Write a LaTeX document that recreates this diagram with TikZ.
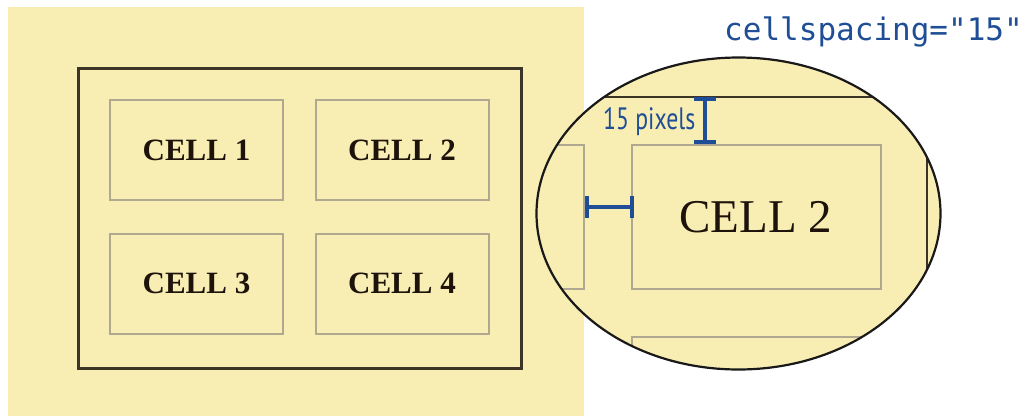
\documentclass[tikz,border=0pt]{standalone}
\usepackage{fontspec}
\setmainfont{Liberation Serif}
\newfontfamily\codefont{DejaVu Sans Mono}
\newfontfamily\notefont{PT Sans}
\usetikzlibrary{arrows.meta}

\definecolor{paper}{HTML}{F8EEB4}
\definecolor{tableedge}{HTML}{3C3426}
\definecolor{celledge}{HTML}{B0A890}
\definecolor{inkblue}{HTML}{1F4E96}

\tikzset{
  cellbox/.style={draw=celledge, line width=2pt, fill=paper, inner sep=0pt,
    minimum width=173pt, minimum height=100pt,
    font=\fontsize{31}{31}\selectfont\bfseries, text=black!85!brown},
  spacer/.style={draw=inkblue, line width=3.5pt,
    {Bar[width=22pt,line width=3.5pt]}-{Bar[width=22pt,line width=3.5pt]}, shorten <=-1.75pt, shorten >=-1.75pt},
}

\begin{document}
\begin{tikzpicture}[x=1pt,y=-1pt]
\useasboundingbox (0,0) rectangle (1034,416);

% page background with the table
\fill[paper] (8,7) rectangle (584,416);
\draw[tableedge, line width=3pt] (78,68) rectangle (521,368);
\node[cellbox] (c1) at (196.5,150) {CELL 1};
\node[cellbox] (c2) at (402,150) {CELL 2};
\node[cellbox] (c3) at (196.5,283.5) {CELL 3};
\node[cellbox] (c4) at (402,283.5) {CELL 4};

% magnified view
\fill[paper] (738.5,213.5) ellipse [x radius=202, y radius=156];
\begin{scope}
  \clip (738.5,213.5) ellipse [x radius=202, y radius=156];
  \draw[tableedge, line width=2.5pt] (500,97) -- (927,97) -- (927,400);
  \draw[celledge, line width=2pt] (400,145) -- (584,145) -- (584,289) -- (400,289);
  \draw[celledge, line width=2pt] (632,145) rectangle (881,289);
  \draw[celledge, line width=2pt] (632,420) -- (632,337) -- (990,337);
\end{scope}
\node[font=\fontsize{47}{47}\selectfont, text=black!85!brown, anchor=base] (big) at (756,232) {CELL 2};
\draw[black!90, line width=2.2pt] (738.5,213.5) ellipse [x radius=202, y radius=156];

% spacing markers
\coordinate (vt) at (705,99);
\coordinate (vb) at (705,142);
\coordinate (hl) at (587,207);
\coordinate (hr) at (632,207);
\draw[spacer] (vt) -- (vb);
\draw[spacer] (hl) -- (hr);
\node[anchor=base west, inner sep=0pt, text=inkblue] (lbl) at (603,129)
  {\resizebox{92pt}{22pt}{\notefont 15 pixels}};

\node[anchor=base west, inner sep=0pt, text=inkblue,
  font=\fontsize{31}{31}\codefont] (attr) at (724,40) {cellspacing="15"};
\end{tikzpicture}
\end{document}
